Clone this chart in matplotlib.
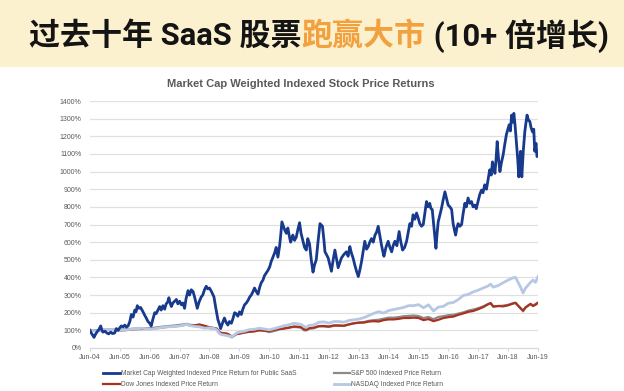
import matplotlib
matplotlib.use("Agg")
import matplotlib.pyplot as plt
from matplotlib.patches import Rectangle

# x values are months counted from Jun-04
tick_labels = ["Jun-%02d" % (y % 100) for y in range(2004, 2020)]

saas_points = [
    (0, 100), (0.5, 85), (1.2, 70), (1.6, 60), (2.3, 80), (3, 95), (3.6, 105), (4.3, 125),
    (4.8, 100), (5.2, 90), (6, 95), (6.8, 85), (7.5, 80), (8.3, 90), (9, 82), (9.9, 85),
    (10.6, 110), (11.3, 100), (12, 115), (12.6, 125), (13.3, 120), (14, 130), (14.6, 118),
    (15.3, 125), (16, 150), (16.6, 190), (17.3, 175), (18, 215), (18.5, 205), (19, 240),
    (19.6, 225), (20.3, 230), (21.3, 205), (22, 185), (22.6, 170), (23.3, 150), (24, 140),
    (24.6, 125), (25.3, 165), (26, 200), (26.6, 195), (27.3, 215), (28, 235), (28.6, 215),
    (29.3, 240), (30, 220), (30.6, 250), (31.2, 260), (31.7, 285), (32.2, 255), (32.7, 235),
    (33.3, 255), (34, 265), (34.7, 275), (35.3, 250), (36, 265), (36.7, 245), (37.3, 255),
    (38, 225), (38.6, 280), (39.4, 325), (40, 300), (40.7, 330), (41.4, 320), (42, 290),
    (42.5, 260), (43.1, 225), (43.8, 260), (44.7, 290), (45.3, 300), (46, 330), (46.7, 350),
    (47.3, 335), (48, 340), (48.8, 320), (49.8, 290), (50.5, 230), (51.4, 160), (52, 135),
    (52.5, 110), (53.2, 140), (54, 170), (54.7, 145), (55.4, 130), (56, 150), (56.8, 140),
    (57.4, 165), (58.1, 200), (58.7, 195), (59.4, 180), (60.1, 205), (60.8, 190), (61.4, 220),
    (62.1, 245), (62.8, 255), (63.5, 270), (64.2, 290), (64.8, 300), (65.5, 320), (66.1, 340),
    (66.8, 320), (67.5, 305), (68.2, 345), (68.8, 370), (69.5, 385), (70.1, 410), (70.8, 425),
    (71.5, 440), (72.2, 460), (72.8, 490), (73.5, 515), (74.2, 540), (74.8, 570), (75.5, 515),
    (76.2, 580), (76.7, 650), (77.1, 715), (77.7, 690), (78.2, 670), (78.9, 650), (79.5, 680),
    (80, 640), (80.6, 600), (81.1, 620), (81.5, 640), (82.2, 610), (82.9, 630), (83.5, 670),
    (84.2, 710), (84.8, 650), (85.5, 610), (86.2, 570), (86.9, 555), (87.5, 620), (88.2, 590),
    (88.9, 500), (89.6, 430), (90.2, 470), (90.9, 500), (91.6, 600), (92.4, 705), (93.4, 690),
    (94, 610), (94.4, 545), (95, 530), (95.7, 510), (96.4, 470), (97, 435), (97.7, 500),
    (98.4, 555), (99, 510), (99.7, 455), (100.3, 480), (101, 510), (102, 530), (103, 545),
    (103.7, 520), (104.4, 575), (105, 540), (105.7, 510), (106.4, 470), (107.1, 435),
    (107.8, 405), (108.4, 440), (109.1, 490), (109.8, 550), (110.4, 605), (111.1, 560),
    (111.8, 575), (112.4, 600), (113.1, 620), (113.8, 600), (114.5, 640), (115.1, 655),
    (115.8, 690), (116.4, 640), (117.1, 585), (117.6, 550), (118.1, 520), (118.9, 570),
    (119.8, 605), (120.5, 570), (121.2, 545), (121.8, 580), (122.5, 605), (123.3, 580),
    (124.2, 660), (124.9, 600), (125.6, 555), (126.4, 570), (127.2, 605), (127.8, 650),
    (128.5, 705), (129.2, 690), (129.8, 755), (130.5, 730), (131.2, 765), (131.8, 740),
    (132.5, 705), (133.2, 690), (133.9, 700), (134.5, 760), (135.2, 830), (135.8, 800),
    (136.5, 820), (137, 790), (137.5, 785), (138.2, 680), (138.6, 620), (139, 565),
    (139.4, 640), (139.9, 715), (140.5, 750), (141.2, 790), (141.9, 840), (142.6, 885),
    (143.2, 850), (143.9, 810), (144.6, 800), (145.3, 785), (145.9, 705), (146.4, 670),
    (146.9, 640), (147.4, 680), (147.9, 705), (148.6, 690), (149.3, 700), (149.9, 760),
    (150.6, 820), (151.2, 800), (151.9, 850), (152.6, 820), (153.3, 830), (153.9, 800),
    (154.6, 810), (155.2, 790), (155.9, 830), (156.6, 870), (157.3, 895), (157.9, 880),
    (158.6, 925), (159.3, 900), (160, 960), (160.6, 1010), (161.2, 980), (161.7, 1055),
    (162.2, 1020), (162.7, 990), (163.2, 1080), (163.6, 1170), (164.1, 1080), (164.7, 1000),
    (165.3, 1050), (166, 1095), (166.6, 1150), (167.3, 1210), (167.9, 1240), (168.4, 1265),
    (168.9, 1230), (169.4, 1320), (169.9, 1280), (170.3, 1330), (170.8, 1260), (171.4, 1150),
    (171.8, 1080), (172.3, 970), (172.7, 1060), (173, 1115), (173.5, 970), (174.1, 1120),
    (174.7, 1225), (175.1, 1270), (175.6, 1320), (176.2, 1290), (176.7, 1285), (177.2, 1250),
    (177.8, 1225), (178.3, 1240), (178.7, 1115), (179.2, 1160), (179.6, 1085), (180, 1090),
]

dow_points = [
    (0, 100), (3, 97), (6, 104), (9, 103), (12, 99), (15, 102), (18, 106), (21, 108),
    (24, 108), (27, 113), (30, 118), (33, 121), (36, 126), (39, 133), (40, 128), (42, 128),
    (44, 133), (46, 126), (48, 118), (50, 113), (51, 110), (52, 90), (53, 85), (54, 84),
    (55, 82), (56, 75), (57, 65), (58, 72), (59, 80), (60, 82), (62, 88), (64, 92), (66, 94),
    (68, 100), (70, 98), (72, 96), (74, 103), (76, 108), (78, 110), (80, 115), (82, 122),
    (84, 120), (85, 118), (86, 106), (87, 104), (88, 112), (90, 116), (92, 124), (94, 125),
    (96, 122), (98, 128), (100, 128), (102, 126), (104, 134), (106, 140), (108, 144),
    (110, 144), (112, 150), (114, 152), (116, 150), (118, 158), (120, 162), (122, 162),
    (124, 165), (126, 170), (128, 170), (130, 172), (132, 170), (134, 158), (136, 164),
    (138, 152), (140, 160), (142, 170), (144, 175), (146, 178), (148, 188), (150, 196),
    (152, 205), (154, 210), (156, 220), (158, 232), (160, 248), (161, 255), (162, 235),
    (164, 238), (166, 236), (168, 242), (170, 252), (171, 255), (172, 240), (173, 225),
    (174, 212), (175, 230), (177, 250), (178, 238), (179, 245), (180, 256),
]

sp500_points = [
    (0, 100), (3, 99), (6, 104), (9, 104), (12, 104), (15, 107), (18, 110), (21, 111),
    (24, 111), (27, 117), (30, 123), (33, 126), (36, 131), (39, 137), (40, 132), (42, 129),
    (44, 132), (46, 124), (48, 112), (50, 110), (51, 106), (52, 84), (53, 79), (54, 77),
    (55, 73), (56, 68), (57, 60), (58, 70), (59, 80), (60, 81), (62, 87), (64, 93), (66, 96),
    (68, 102), (70, 98), (72, 90), (74, 96), (76, 105), (78, 112), (80, 117), (82, 119),
    (84, 117), (85, 112), (86, 100), (87, 100), (88, 109), (90, 112), (92, 123), (94, 122),
    (96, 119), (98, 126), (100, 126), (102, 125), (104, 133), (106, 140), (108, 143),
    (110, 147), (112, 154), (114, 158), (116, 160), (118, 166), (120, 172), (122, 172),
    (124, 175), (126, 180), (128, 182), (130, 184), (132, 181), (134, 170), (136, 176),
    (138, 163), (140, 176), (142, 180), (144, 186), (146, 188), (148, 195), (150, 202),
    (152, 212), (154, 218), (156, 226), (158, 236), (160, 250), (161, 252), (162, 235),
    (164, 238), (166, 240), (168, 245), (170, 254), (171, 257), (172, 240), (173, 226),
    (174, 208), (175, 230), (177, 250), (178, 240), (179, 250), (180, 258),
]

nasdaq_points = [
    (0, 100), (3, 96), (6, 105), (9, 104), (12, 100), (15, 104), (18, 108), (21, 112),
    (24, 106), (27, 112), (30, 120), (33, 121), (36, 125), (39, 134), (40, 128), (42, 122),
    (44, 120), (46, 112), (48, 114), (50, 110), (51, 102), (52, 82), (53, 75), (54, 74),
    (55, 70), (56, 68), (57, 63), (58, 74), (59, 86), (60, 90), (62, 95), (64, 104), (66, 106),
    (68, 112), (70, 108), (72, 103), (74, 110), (76, 118), (78, 126), (80, 132), (82, 140),
    (84, 136), (85, 132), (86, 122), (87, 118), (88, 128), (90, 131), (92, 146), (94, 148),
    (96, 141), (98, 150), (100, 150), (102, 146), (104, 156), (106, 160), (108, 164),
    (110, 172), (112, 184), (114, 196), (116, 206), (118, 198), (120, 212), (122, 218),
    (124, 224), (126, 230), (128, 240), (130, 240), (132, 246), (134, 228), (136, 245),
    (138, 210), (140, 232), (142, 236), (144, 254), (146, 258), (148, 275), (150, 298),
    (152, 304), (154, 318), (156, 328), (158, 340), (160, 352), (161, 362), (162, 345),
    (164, 354), (166, 370), (168, 385), (170, 398), (171, 400), (172, 372), (173, 345),
    (174, 312), (175, 340), (177, 372), (178, 385), (179, 372), (180, 405),
]

fig = plt.figure(figsize=(6.24, 3.91), dpi=100)
W, H = 624, 391

# yellow header band
fig.patches.append(Rectangle((0, 1 - 67 / H), 1, 67 / H, transform=fig.transFigure,
                             facecolor="#FCF1CF", edgecolor="none", zorder=0))

# header title, middle part in orange
pieces = [("过去十年 SaaS 股票", "#141414"), ("跑赢大市", "#F3A03E"), (" (10+ 倍增长)", "#141414")]
renderer = fig.canvas.get_renderer()
x = 29
for txt, col in pieces:
    t = fig.text(x / W, 1 - 36 / H, txt, color=col, fontsize=22.3, fontweight="bold",
                 family=["Roboto", "Noto Sans CJK SC"], va="center", ha="left")
    x += t.get_window_extent(renderer).width

ax = fig.add_axes([90 / W, 43 / H, 448 / W, 247 / H])

series = [
    (saas_points, "Market Cap Weighted Indexed Price Return for Public SaaS", "#173A8C", 2.0, 5),
    (dow_points, "Dow Jones Indexed Price Return", "#A8321F", 1.6, 3),
    (sp500_points, "S&P 500 Indexed Price Return", "#8A8A8A", 1.6, 2),
    (nasdaq_points, "NASDAQ Indexed Price Return", "#B7C8E4", 2.0, 4),
]
handles = []
for pts, label, col, lw, z in series:
    xs = [p[0] for p in pts]
    ys = [p[1] for p in pts]
    h, = ax.plot(xs, ys, color=col, lw=lw, label=label, zorder=z, solid_joinstyle="round")
    handles.append(h)

ax.set_xlim(0, 180)
ax.set_ylim(0, 1400)
ax.set_yticks(range(0, 1401, 100))
ax.set_yticklabels([f"{v}%" for v in range(0, 1401, 100)])
ax.set_xticks(range(0, 181, 12))
ax.set_xticklabels(tick_labels)
ax.grid(axis="y", color="#E0E0E0", lw=0.9, zorder=0)
for s in ["top", "right", "left"]:
    ax.spines[s].set_visible(False)
ax.spines["bottom"].set_color("#D9D9D9")
ax.tick_params(axis="y", length=0, pad=6, labelsize=5, labelcolor="#595959")
ax.tick_params(axis="x", length=2, color="#D9D9D9", pad=2, labelsize=5, labelcolor="#595959")
for lbl in ax.get_xticklabels() + ax.get_yticklabels():
    lbl.set_family("Liberation Sans")

fig.text(301 / W, 1 - 84 / H, "Market Cap Weighted Indexed Stock Price Returns",
         ha="center", va="center", fontsize=8, fontweight="bold", color="#595959",
         family="Liberation Sans")

leg = fig.legend(handles, [h.get_label() for h in handles], ncol=2, loc="upper left",
                 bbox_to_anchor=(97 / W, 1 - 364 / H), frameon=False,
                 prop={"family": "Liberation Sans", "size": 4.8}, labelcolor="#595959",
                 handlelength=2.5, handletextpad=0.15, columnspacing=5.6, labelspacing=0.6)

fig.savefig("out.png", dpi=100)
